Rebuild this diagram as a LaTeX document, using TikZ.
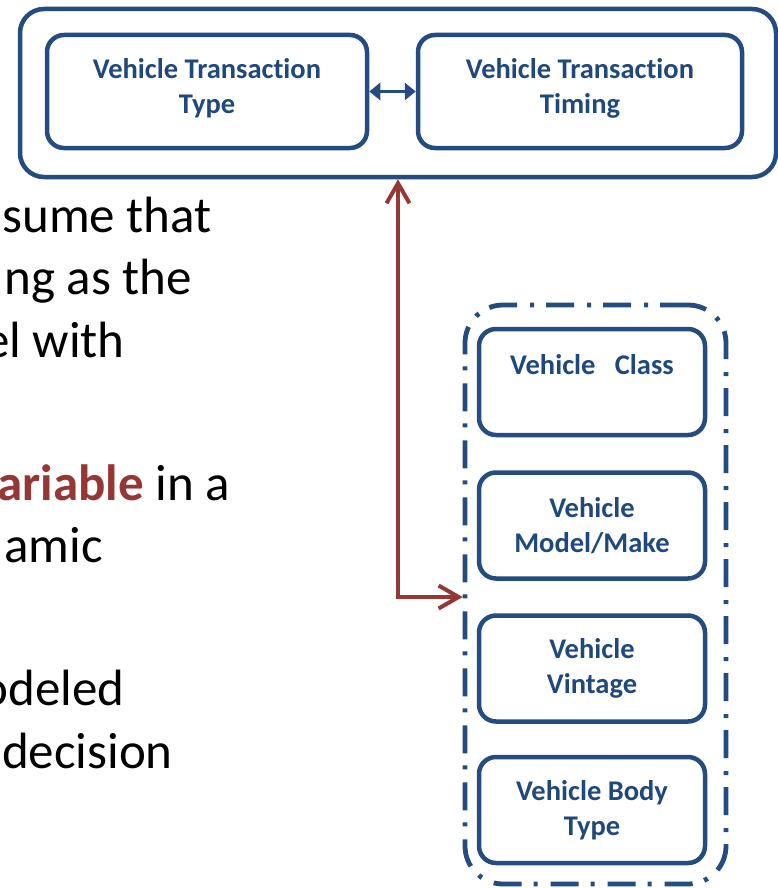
\documentclass[tikz,border=0pt]{standalone}
\usepackage{fontspec}
\setmainfont{Carlito}[Ligatures=NoCommon]
\usetikzlibrary{arrows.meta}
\definecolor{navy}{HTML}{1F497D}
\definecolor{navyline}{HTML}{244C80}
\definecolor{brick}{HTML}{953735}
\begin{document}
\begin{tikzpicture}[x=1pt,y=-1pt,
  outerframe/.style={draw=navyline, line width=4.5pt, rounded corners=24pt,
    inner sep=0pt, minimum width=756pt, minimum height=168pt},
  itembox/.style={draw=navyline, line width=4.5pt, rounded corners=17pt,
    inner sep=0pt, align=center, text=navy,
    font=\fontsize{28.5pt}{35pt}\selectfont\bfseries},
  boxlabel/.style={inner sep=0pt, align=center, text=navy,
    font=\fontsize{28.5pt}{35pt}\selectfont\bfseries},
  groupframe/.style={draw=navyline, line width=4.8pt, rounded corners=38pt,
    dash pattern=on 28pt off 12pt on 4pt off 13pt,
    inner sep=0pt, minimum width=261pt, minimum height=579pt},
  linkarrow/.style={draw=navyline, line width=3.8pt,
    {Triangle[length=11pt,width=17pt]}-{Triangle[length=11pt,width=17pt]}},
  feedarrow/.style={draw=brick, line width=4pt, line join=miter,
    {Straight Barb[length=20pt,width=23pt]}-{Straight Barb[length=20pt,width=23pt]}},
  bodytext/.style={inner sep=0pt, anchor=base east, text=black,
    font=\fontsize{51pt}{62pt}\selectfont}]
\useasboundingbox[fill=white] (0,0) rectangle (778,888);

% transaction block
\node[outerframe] (outer) at (398,93) {};
\node[itembox, minimum width=320pt, minimum height=113pt] (ttype) at (207,91.5) {};
\node[itembox, minimum width=324pt, minimum height=113pt] (ttime) at (580,91.5) {};
\node[boxlabel, yshift=3pt] (ttypelbl) at (ttype.center) {Vehicle Transaction\\Type};
\node[boxlabel, yshift=3pt] (ttimelbl) at (ttime.center) {Vehicle Transaction\\Timing};
\draw[linkarrow] (ttype) -- (ttime);

% vehicle attribute group
\node[groupframe] (grp) at (595.5,594.5) {};
\node[itembox, minimum width=226pt, minimum height=106pt] (vclass) at (592,382)
  {Vehicle\ \ \ Class\\\mbox{}};
\node[itembox, minimum width=226pt, minimum height=106pt] (vmodel) at (592,525.5)
  {Vehicle\\Model/Make};
\node[itembox, minimum width=226pt, minimum height=106pt] (vvint) at (592,668.5)
  {Vehicle\\Vintage};
\node[itembox, minimum width=226pt, minimum height=106pt] (vbody) at (592,810)
  {Vehicle Body\\Type};

% link between the two blocks
\coordinate (lvl) at (0,597);
\coordinate (bend) at (outer.south |- lvl);
\draw[feedarrow] (outer.south) -- (bend) -- (grp.west |- bend);

% body text
\node[bodytext] (t1) at (212,232) {sume that};
\node[bodytext] (t2) at (192,294) {ng as the};
\node[bodytext] (t3) at (125,357) {el with};
\node[bodytext] (t4) at (230,500) {\textcolor{brick}{\bfseries ariable} in a};
\node[bodytext] (t5) at (103,562) {amic};
\node[bodytext] (t6) at (125,705) {odeled};
\node[bodytext] (t7) at (173,768) {decision};
\end{tikzpicture}
\end{document}
